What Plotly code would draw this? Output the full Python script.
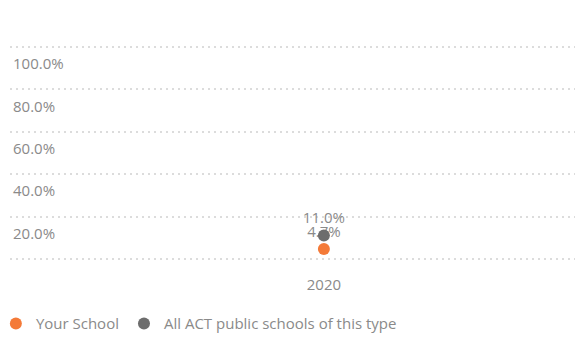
import plotly.graph_objects as go

# Data
years = ["2020"]
your_school = [4.7]
all_act_public = [11.0]
series_names = ["Your School", "All ACT public schools of this type"]
y_ticks = [0, 20, 40, 60, 80, 100]
y_tick_labels = ["0.0%", "20.0%", "40.0%", "60.0%", "80.0%", "100.0%"]

ORANGE = "#f47a38"
GREY = "#6d6d6d"
TEXT = "#8a8a8a"
FONT = "Open Sans"

fig = go.Figure()
for name, vals, col in [
    (series_names[0], your_school, ORANGE),
    (series_names[1], all_act_public, GREY),
]:
    fig.add_trace(go.Scatter(
        x=years, y=vals, name=name, mode="markers+text",
        marker=dict(color=col, size=12),
        text=[f"{v:.1f}%" for v in vals],
        textposition="top center",
        textfont=dict(family=FONT, size=15, color=TEXT),
        cliponaxis=False,
    ))

fig.update_layout(
    width=575, height=339,
    margin=dict(l=10, r=0, t=45, b=78, autoexpand=False),
    paper_bgcolor="white", plot_bgcolor="white",
    font=dict(family=FONT, size=15, color=TEXT),
    showlegend=True,
    legend=dict(orientation="h", x=-0.025, xanchor="left", y=-0.29, yanchor="middle",
                font=dict(family=FONT, size=15, color=TEXT),
                itemsizing="constant", traceorder="normal"),
)
fig.update_xaxes(
    type="category", range=[-0.5, 0.4],
    showgrid=False, zeroline=False, showline=False,
    ticks="", ticklabelstandoff=13,
    tickfont=dict(family=FONT, size=15, color=TEXT),
)
fig.update_yaxes(
    range=[-1, 101], tickvals=y_ticks, ticktext=y_tick_labels,
    showgrid=True, gridcolor="#dcdcdc", gridwidth=2, griddash="2px,4px",
    zeroline=False, showline=False, ticks="",
    ticklabelposition="inside", ticklabelshift=17,
    tickfont=dict(family=FONT, size=15, color=TEXT),
)

fig.write_html("out.html")
